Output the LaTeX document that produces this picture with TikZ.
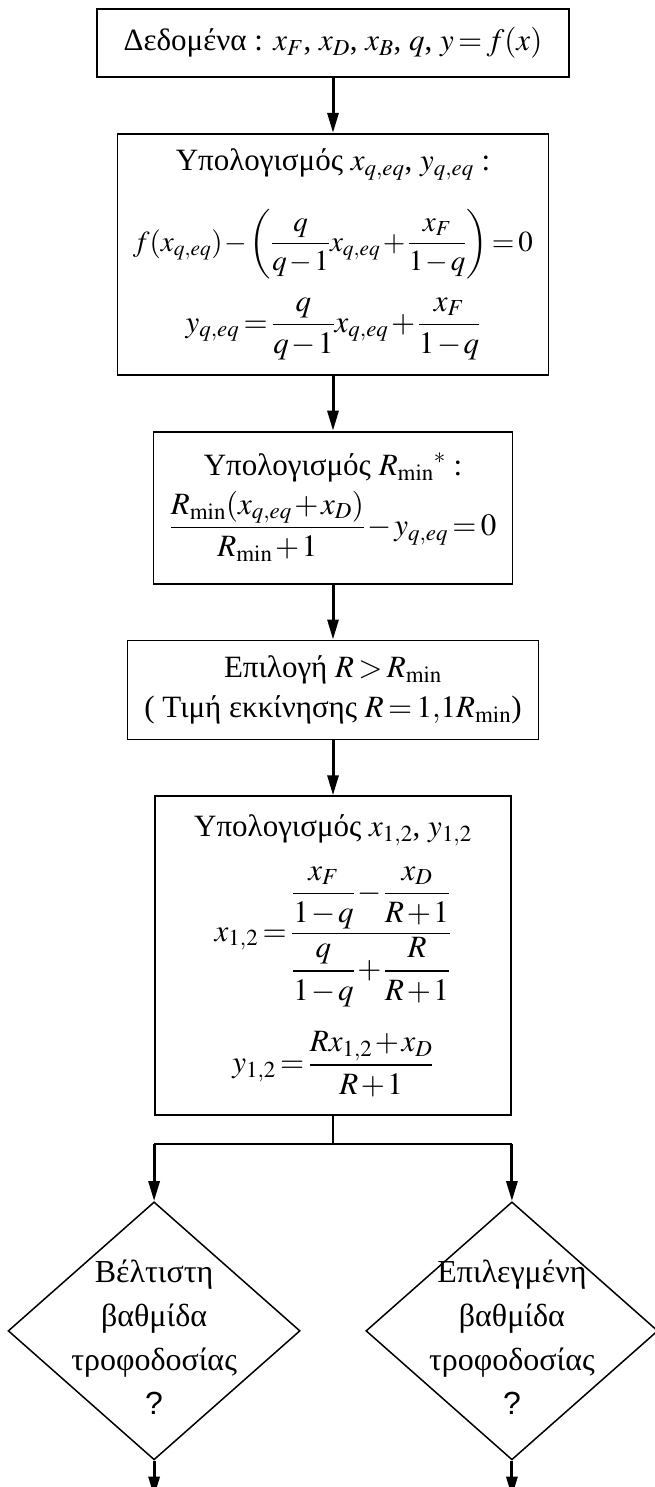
\documentclass[tikz,border=0pt]{standalone}
\usepackage{amsmath}
\usepackage{mathptmx}
\usepackage[no-math]{fontspec}
\setmainfont{Liberation Serif}
\newfontfamily\greekfont{Liberation Serif}
\newfontfamily\qmarkfont{Liberation Sans}
\newcommand\tightmath{\medmuskip=1.5mu\relax\thickmuskip=2.5mu\relax}
\usetikzlibrary{arrows.meta, positioning, shapes.geometric}

\begin{document}
\begin{tikzpicture}[
    x=1pt, y=1pt,
    node distance=55pt,
    box/.style={rectangle, draw=black, line width=1.8pt, align=center, inner sep=2pt,
        font=\greekfont\fontsize{31}{38}\selectfont\tightmath},
    decision/.style={diamond, draw=black, line width=1.5pt, minimum width=292pt, minimum height=258pt, inner sep=0pt},
    decisiontext/.style={align=center, inner sep=0pt, font=\greekfont\fontsize{32}{44}\selectfont},
    arrow/.style={-{Triangle[length=20pt, width=11pt]}, line width=3pt},
    link/.style={line width=1.5pt}
]
\useasboundingbox (0,0) rectangle (655,-1487);

\node[box, minimum width=472pt, minimum height=68pt] (data) at (333,-43) {Δεδομένα : $x_F$, $x_D$, $x_B$, $q$, $y=f\!\left(x\right)$};
\node[box, below=of data, minimum width=431pt, minimum height=241pt] (qeq) {Υπολογισμός $x_{q,eq}$, $y_{q,eq}$ :\\[28pt]
    {\fontsize{29}{34}\selectfont$f\!\left(x_{q,eq}\right)-\left(\dfrac{q}{q-1}x_{q,eq}+\dfrac{x_F}{1-q}\right)=0$}\\[18pt]
    $y_{q,eq}=\dfrac{q}{q-1}x_{q,eq}+\dfrac{x_F}{1-q}$};
\node[box, below=of qeq, minimum width=359pt, minimum height=152pt] (rmin) {Υπολογισμός $R_{\min}{}^{*}$ :\\[8pt]
    $\dfrac{R_{\min}\!\left(x_{q,eq}+x_D\right)}{R_{\min}+1}-y_{q,eq}=0$};
\node[box, below=of rmin, minimum width=411pt, minimum height=99pt] (choice) {Επιλογή $R>R_{\min}$\\[2pt]
    ( Τιμή εκκίνησης $R=1{,}1R_{\min}$)};
\node[box, below=of choice, minimum width=356pt, minimum height=319pt] (xy) {Υπολογισμός $x_{1,2}$, $y_{1,2}$\\[20pt]
    $x_{1,2}=\dfrac{\dfrac{x_F}{1-q}-\dfrac{x_D}{R+1}}{\dfrac{q}{1-q}+\dfrac{R}{R+1}}$\\[24pt]
    $y_{1,2}=\dfrac{Rx_{1,2}+x_D}{R+1}$};

% split towards the two feed stages
\coordinate (split) at ([yshift=-28pt]xy.south);
\coordinate (splitl) at (xy.west |- split);
\coordinate (splitr) at (xy.east |- split);

\node[decision, below=57pt of splitl] (opt) {};
\node[decision, below=57pt of splitr] (sel) {};
\node[decisiontext] (opttext) at ([yshift=-6pt]opt.center) {Βέλτιστη\\βαθμίδα\\τροφοδοσίας\\{\qmarkfont ?}};
\node[decisiontext] (seltext) at ([yshift=-6pt]sel.center) {Επιλεγμένη\\βαθμίδα\\τροφοδοσίας\\{\qmarkfont ?}};
\coordinate[below=36pt of opt.south] (optend);
\coordinate[below=36pt of sel.south] (selend);

\draw[arrow] (data) -- (qeq);
\draw[arrow] (qeq) -- (rmin);
\draw[arrow] (rmin) -- (choice);
\draw[arrow] (choice) -- (xy);
\draw[link] (xy.south) -- (split);
\draw[link] (splitl) -- (splitr);
\draw[arrow] (splitl) -- (opt.north);
\draw[arrow] (splitr) -- (sel.north);
\draw[arrow] (opt.south) -- (optend);
\draw[arrow] (sel.south) -- (selend);
\end{tikzpicture}
\end{document}
